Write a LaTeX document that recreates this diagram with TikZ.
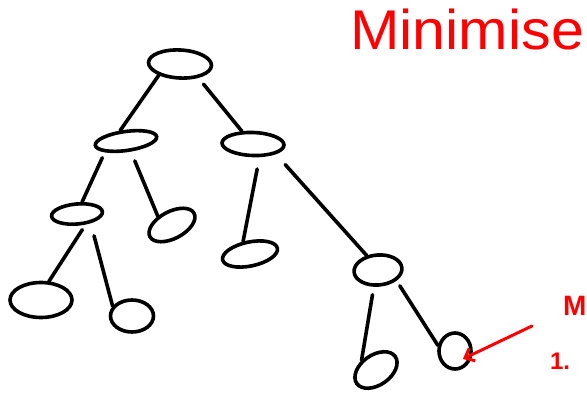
\documentclass[tikz,border=0pt]{standalone}
\usepackage{fontspec}
\setmainfont{Liberation Sans}
\usetikzlibrary{shapes.geometric,arrows.meta,calc}
\definecolor{inkred}{RGB}{255,0,0}
\tikzset{
  treenode/.style={draw=black, ellipse, line width=3.6pt, inner sep=0pt},
  edge/.style={draw=black, line width=3.6pt, line cap=round},
  rednote/.style={text=inkred, inner sep=0pt, outer sep=0pt},
  redarrow/.style={draw=inkred, line width=3pt, line cap=round, -{Straight Barb[length=8pt,width=14pt,line width=3pt]}}
}
\begin{document}
\begin{tikzpicture}[x=1pt,y=-1pt]
\useasboundingbox (0,0) rectangle (587,393);
% nodes
\node[treenode, minimum width=63pt, minimum height=28pt, rotate=-3] (root) at (180,64) {};
\node[treenode, minimum width=62pt, minimum height=19pt, rotate=8] (A) at (126,141) {};
\node[treenode, minimum width=62pt, minimum height=23pt, rotate=-2] (B) at (253,144) {};
\node[treenode, minimum width=51pt, minimum height=20pt, rotate=5] (C) at (77,214) {};
\node[treenode, minimum width=50pt, minimum height=27pt, rotate=28] (D) at (172,225) {};
\node[treenode, minimum width=56pt, minimum height=24pt, rotate=12] (E) at (250,254) {};
\node[treenode, minimum width=48pt, minimum height=30pt, rotate=5] (F) at (378,270) {};
\node[treenode, minimum width=62pt, minimum height=35pt] (G) at (41,300) {};
\node[treenode, minimum width=43pt, minimum height=32pt] (H) at (132,316) {};
\node[treenode, minimum width=47pt, minimum height=30pt, rotate=35] (I) at (376,370) {};
\node[treenode, minimum width=32pt, minimum height=36pt] (J) at (455,351) {};
% edges
\draw[edge] (root.211) -- (A.111);
\draw[edge, shorten <=8pt] (root.326) -- (B.133);
\draw[edge, shorten <=6pt] (A.200) -- (C.62);
\draw[edge, shorten <=10pt] (A.287) -- (D.120);
\draw[edge, shorten <=12pt] (B.298) -- (E.107);
\draw[edge, shorten <=14pt] (B.338) -- (F.123);
\draw[edge, shorten <=6pt] (C.304) -- (G.67);
\draw[edge, shorten <=13pt] (C.321) -- (H.153);
\draw[edge, shorten <=8pt] (F.251) -- (I.111);
\draw[edge, shorten <=6pt] (F.325) -- (J.162);
% red annotations
\node[rednote, anchor=base west, xscale=1.06, font=\fontsize{56}{56}\selectfont] (title) at (350,50) {Minimise};
\node[rednote, anchor=base west, font=\bfseries\fontsize{28}{28}\selectfont] (noteM) at (563,315) {M};
\node[rednote, anchor=base west, font=\bfseries\fontsize{24}{24}\selectfont] (noteone) at (550,369) {1.};
\coordinate (astart) at (532,326);
\draw[redarrow] (astart) -- ($(J.center)!0.6!(J.315)$);
\end{tikzpicture}
\end{document}
